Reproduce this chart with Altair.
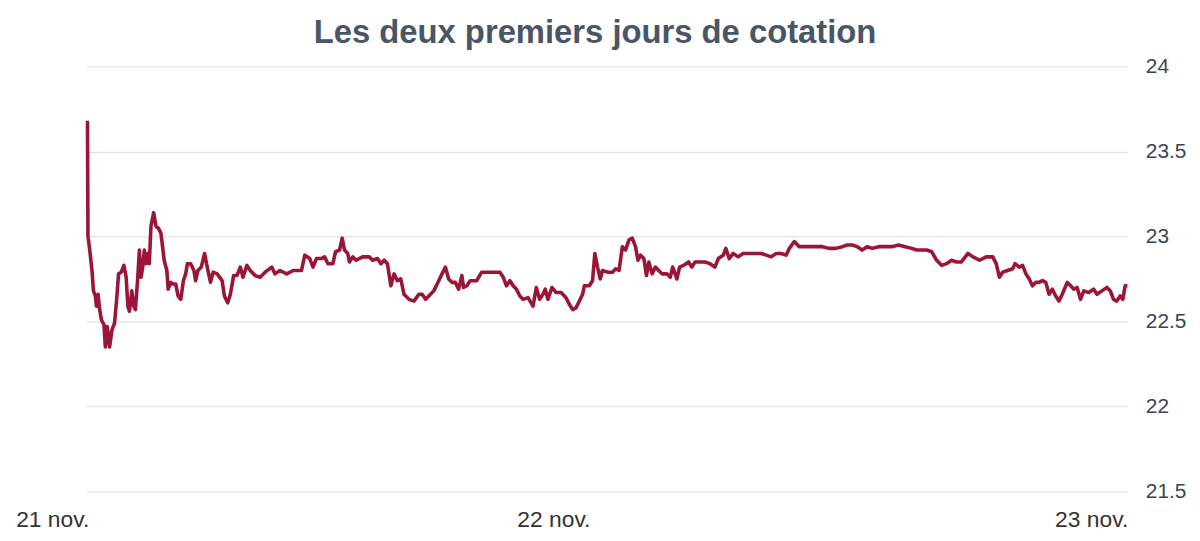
import altair as alt
import pandas as pd

# time index (trading-time units) and price
t = [0, 0.5, 2.3, 4.7, 6, 8, 9, 10.7, 12.3, 14, 16.7, 18, 20, 22.3, 24.7, 27.3, 29.7, 31.3, 34, 36.7,
     39, 40.7, 42.3, 44.7, 46.7, 48.3, 50.7, 52.3, 54, 55.7, 57.3, 59, 60.7, 62.3, 64, 66.7, 69, 71.3,
     74, 75.7, 77.3, 80, 81.3, 84, 85.7, 89, 91.3, 94, 96.7, 99, 100.7, 104, 107.3, 109, 111.3, 114.7,
     118, 120.7, 124, 126.7, 130.7, 135.7, 138, 141.3, 144, 147.3, 150.7, 154, 156.7, 160.7, 164,
     169, 174, 179, 185.7, 189, 194, 200.7, 207.3, 215.7, 219, 224, 227.3, 230.7, 235.7, 239, 242.3,
     247.3, 250, 254, 256.7, 259, 262.3, 264, 267.3, 270.7, 277.3, 284, 287.3, 292.3, 295.7, 299,
     302.3, 305.7, 309, 312.3, 315.7, 319, 324, 329, 334, 337.3, 340.7,
     344, 349, 354, 357.3, 360.7, 364, 367.3, 370.7, 374, 377.3, 379, 382.3, 385.7, 392.3, 397.3,
     402.3, 409, 415.7, 419, 422.3, 425.7, 429, 432.3, 435.7, 439, 444, 449, 452.3, 455.7, 459, 461.3,
     464, 468, 472.3, 477.3, 482.3, 485.7, 489, 492.3, 495.7, 499, 500.7, 505.7, 509, 511.3, 514,
     516.7, 519,
     524, 529, 532.3, 535.7, 539, 542.3, 545.7, 549, 552.3, 554.7, 557.3, 560.7, 563.3, 565.7, 569,
     572.3, 575.7, 579, 584, 587.3, 589.7, 594, 596.7, 600.7, 605.7, 609, 612.3, 617.3, 622.3, 627.3,
     632.3, 635.7, 640.7, 643.3, 646.7, 650.7, 655.7, 660.7, 667.3, 674, 679, 684, 689, 694, 699,
     704, 707.3, 712.3, 717.3, 722.3, 727.3, 734, 740.7, 747.3, 754, 760.7, 765.7, 770.7, 775.7,
     780.7, 785.7, 790.7, 797.3, 804, 810.7, 817.3, 824, 830.7, 835.7, 840.7, 845.7, 850.7, 855.7,
     860.7, 865.7, 870.7,
     875.7, 880.7, 887.3, 892.3, 899, 905.7, 912.3, 915.7, 919, 922.3, 927.3, 932.3, 934.7, 939,
     942.3, 945.7, 949, 952.3, 955.7, 959, 962.3, 965.7, 969, 972.3, 975.7, 979, 982.3, 987.3, 990.7,
     994, 997.3, 1000.7, 1004, 1009, 1014, 1017.3, 1022.3, 1027.3, 1030.7, 1034, 1037.3, 1040.7,
     1043.3, 1045.7, 1048]

price = [23.68, 23.00, 22.92, 22.79, 22.68, 22.65, 22.59, 22.66, 22.57, 22.51, 22.48, 22.35, 22.47,
         22.35, 22.45, 22.49, 22.65, 22.78, 22.79, 22.83, 22.76, 22.59, 22.56, 22.68, 22.59, 22.57,
         22.76, 22.92, 22.76, 22.82, 22.92, 22.84, 22.90, 22.84, 23.06, 23.14, 23.06, 23.05, 23.02,
         22.94, 22.86, 22.80, 22.69, 22.73, 22.72, 22.72, 22.65, 22.63, 22.74, 22.78, 22.84, 22.84,
         22.80, 22.74, 22.80, 22.82, 22.90, 22.82, 22.73, 22.79, 22.78, 22.74, 22.65, 22.61, 22.66,
         22.77, 22.77, 22.82, 22.76, 22.83, 22.80,
         22.77, 22.76, 22.79, 22.82, 22.78, 22.80, 22.78, 22.80, 22.80, 22.89, 22.87, 22.82, 22.87,
         22.87, 22.88, 22.84, 22.84, 22.91, 22.92, 22.99, 22.92, 22.90, 22.85, 22.88, 22.86, 22.88,
         22.88, 22.86, 22.87, 22.84, 22.86, 22.84, 22.71, 22.78, 22.74, 22.75, 22.66, 22.63, 22.62,
         22.66, 22.66, 22.63,
         22.65, 22.68, 22.74, 22.78, 22.82, 22.75, 22.73, 22.73, 22.69, 22.77, 22.70, 22.71, 22.74,
         22.74, 22.79, 22.79, 22.79, 22.79, 22.76, 22.71, 22.74, 22.71, 22.69, 22.65, 22.63, 22.64,
         22.59, 22.70, 22.63, 22.66, 22.69, 22.63, 22.70, 22.67, 22.67, 22.64, 22.60, 22.57, 22.58,
         22.62, 22.66, 22.71, 22.71, 22.74, 22.90, 22.82, 22.75, 22.80,
         22.79, 22.79, 22.81, 22.80, 22.94, 22.92, 22.98, 22.99, 22.94, 22.86, 22.89, 22.87, 22.77,
         22.85, 22.78, 22.82, 22.80, 22.78, 22.78, 22.76, 22.82, 22.75, 22.82, 22.83, 22.85, 22.82,
         22.85, 22.85, 22.85, 22.84, 22.82, 22.87, 22.89, 22.93, 22.87, 22.90, 22.88, 22.90, 22.90,
         22.90, 22.90, 22.89, 22.88, 22.90, 22.90,
         22.89, 22.93, 22.97, 22.94, 22.94, 22.94, 22.94, 22.94, 22.93, 22.93, 22.94, 22.95, 22.95,
         22.94, 22.92, 22.94, 22.93, 22.94, 22.94, 22.94, 22.95, 22.94, 22.93, 22.92, 22.92, 22.92,
         22.91, 22.86, 22.83, 22.84, 22.86,
         22.85, 22.85, 22.90, 22.88, 22.86, 22.88, 22.88, 22.84, 22.76, 22.79, 22.80, 22.81, 22.84,
         22.82, 22.83, 22.78, 22.75, 22.71, 22.73, 22.73, 22.74, 22.73, 22.66, 22.69, 22.65, 22.62,
         22.66, 22.73, 22.71, 22.69, 22.70, 22.63, 22.68, 22.67, 22.69, 22.66, 22.68, 22.70, 22.68,
         22.63, 22.62, 22.65, 22.63, 22.71, 22.71]

day_labels = ["21 nov.", "22 nov.", "23 nov."]
day_pos = [-35, 470, 1012]
y_ticks = [21.5, 22, 22.5, 23, 23.5, 24]

df = pd.DataFrame({"t": t, "price": price})
lab = pd.DataFrame({"t": day_pos, "label": day_labels})

W, H = 1048, 428
FONT = "Liberation Sans"

xscale = alt.Scale(domain=[-1, 1048], nice=False, zero=False)

line = alt.Chart(df).mark_line(color="#9b1538", strokeWidth=3.6, strokeJoin="round").encode(
    x=alt.X("t:Q", scale=xscale, axis=None),
    y=alt.Y("price:Q", scale=alt.Scale(domain=[21.5, 24], nice=False, zero=False),
            axis=alt.Axis(orient="right", values=y_ticks, title=None, domain=False, ticks=False,
                          labelFont=FONT, labelFontSize=21, labelColor="#3b4552",
                          labelPadding=18, gridColor="#dcdcdc", gridWidth=1,
                          labelExpr="replace(format(datum.value, '.1f'), '.0', '')")),
)

labels = alt.Chart(lab).mark_text(font=FONT, fontSize=23, color="#333333", baseline="middle",
                                  align="center").encode(
    x=alt.X("t:Q", scale=xscale),
    y=alt.value(H + 29),
    text="label:N",
)

chart = alt.layer(line, labels).properties(
    width=W, height=H,
    title=alt.TitleParams("Les deux premiers jours de cotation", font=FONT, fontSize=33,
                          fontWeight="bold", color="#4a5566", anchor="middle", dx=-12, offset=6),
    autosize=alt.AutoSizeParams(type="none"),
    padding={"left": 79, "top": 57, "right": 65, "bottom": 48},
).configure_view(stroke=None).configure_axis(grid=True)

chart.save("out.html", embed_options={"renderer": "svg", "actions": False})
